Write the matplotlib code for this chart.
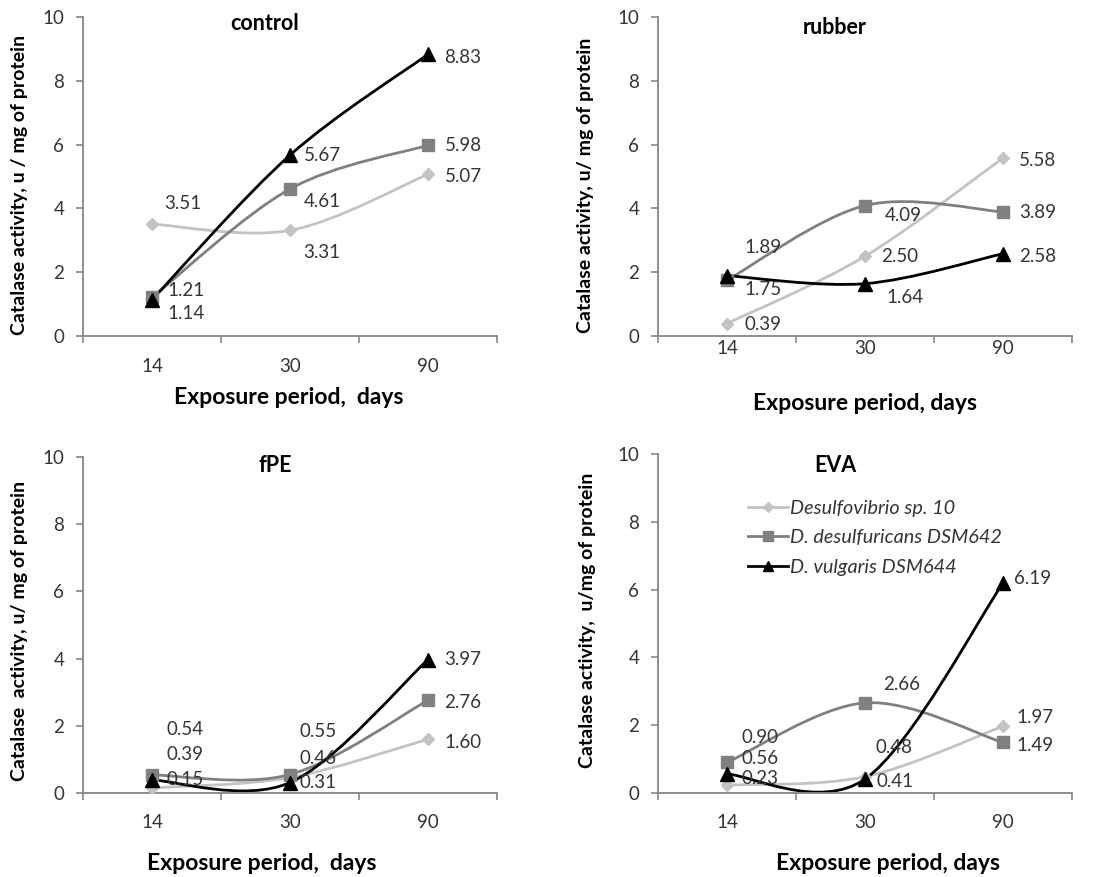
import matplotlib
matplotlib.use('Agg')
import matplotlib.pyplot as plt
from matplotlib.path import Path
from matplotlib.patches import PathPatch
from matplotlib.lines import Line2D

plt.rcParams['font.family'] = ['Lato', 'DejaVu Sans']

# -------------------------------------------------------------------------------------------------------------------- #
# Data
# -------------------------------------------------------------------------------------------------------------------- #

periods = ['14', '30', '90']
strains = ['Desulfovibrio sp. 10', 'D. desulfuricans DSM642', 'D. vulgaris DSM644']

control_sp10 = [3.51, 3.31, 5.07]
control_dsm642 = [1.21, 4.61, 5.98]
control_dsm644 = [1.14, 5.67, 8.83]

rubber_sp10 = [0.39, 2.50, 5.58]
rubber_dsm642 = [1.75, 4.09, 3.89]
rubber_dsm644 = [1.89, 1.64, 2.58]

fpe_sp10 = [0.15, 0.46, 1.60]
fpe_dsm642 = [0.54, 0.55, 2.76]
fpe_dsm644 = [0.39, 0.31, 3.97]

eva_sp10 = [0.23, 0.48, 1.97]
eva_dsm642 = [0.90, 2.66, 1.49]
eva_dsm644 = [0.56, 0.41, 6.19]

# -------------------------------------------------------------------------------------------------------------------- #
# Settings
# -------------------------------------------------------------------------------------------------------------------- #

W, H = 1096, 877
DPI = 100
TEXT_GREY = '#353535'
AXIS_GREY = '#868686'

styles = [
    dict(color='#c3c3c3', marker='D', ms=6.5),
    dict(color='#808080', marker='s', ms=8.5),
    dict(color='#000000', marker='^', ms=9.5),
]

# axes box in pixels: left, top(y=10), right, bottom(y=0)
panels = [
    dict(series=[control_sp10, control_dsm642, control_dsm644],
         box=(83, 17, 497, 336), title='control', title_xy=(265, 23),
         ylabel='Catalase activity, u / mg of protein', ylabel_xy=(20, 185),
         xlabel='Exposure period,  days', xlabel_xy=(289, 397), tick_y=367,
         offsets=[[(31, -21), (32, 22), (35, 2)],
                  [(34, -7), (32, 13), (35, 0)],
                  [(34, 14), (32, 0), (35, 3)]]),
    dict(series=[rubber_sp10, rubber_dsm642, rubber_dsm644],
         box=(658, 17, 1072, 336), title='rubber', title_xy=(835, 28),
         ylabel='Catalase activity, u/ mg of protein', ylabel_xy=(586, 185),
         xlabel='Exposure period, days', xlabel_xy=(865, 403), tick_y=348,
         offsets=[[(36, 1), (35, 0), (35, 3)],
                  [(36, 9), (38, 10), (35, 1)],
                  [(36, -28), (40, 14), (35, 3)]]),
    dict(series=[fpe_sp10, fpe_dsm642, fpe_dsm644],
         box=(83, 457, 497, 793), title='fPE', title_xy=(275, 466),
         ylabel='Catalase  activity, u/ mg of protein', ylabel_xy=(20, 631),
         xlabel='Exposure period,  days', xlabel_xy=(262, 863), tick_y=823,
         offsets=[[(33, -8), (28, -19), (35, 3)],
                  [(33, -45), (28, -43), (35, 2)],
                  [(33, -25), (28, 0), (35, 0)]]),
    dict(series=[eva_sp10, eva_dsm642, eva_dsm644],
         box=(658, 454, 1072, 793), title='EVA', title_xy=(835, 465),
         ylabel='Catalase activity,  u/mg of protein', ylabel_xy=(587, 620),
         xlabel='Exposure period, days', xlabel_xy=(888, 863), tick_y=823,
         offsets=[[(33, -7), (29, -29), (32, -9)],
                  [(33, -25), (37, -18), (32, 3)],
                  [(33, -16), (30, 2), (30, -5)]]),
]

# -------------------------------------------------------------------------------------------------------------------- #
# Functions
# -------------------------------------------------------------------------------------------------------------------- #

def fx(px):
    return px / W


def fy(py):
    return 1 - py / H


def smooth_path(xs, ys):
    """Excel-like smoothed line: Catmull-Rom segments as cubic Bezier curves."""
    pts = list(zip(xs, ys))
    n = len(pts)
    verts = [pts[0]]
    codes = [Path.MOVETO]
    for i in range(n - 1):
        p0 = pts[max(i - 1, 0)]
        p1 = pts[i]
        p2 = pts[i + 1]
        p3 = pts[min(i + 2, n - 1)]
        c1 = (p1[0] + (p2[0] - p0[0]) / 6, p1[1] + (p2[1] - p0[1]) / 6)
        c2 = (p2[0] - (p3[0] - p1[0]) / 6, p2[1] - (p3[1] - p1[1]) / 6)
        verts += [c1, c2, p2]
        codes += [Path.CURVE4] * 3
    return Path(verts, codes)


# -------------------------------------------------------------------------------------------------------------------- #
# Main
# -------------------------------------------------------------------------------------------------------------------- #

fig = plt.figure(figsize=(W / DPI, H / DPI), dpi=DPI)
xpos = list(range(len(periods)))

for p in panels:
    left, top, right, bottom = p['box']
    ax = fig.add_axes([fx(left), fy(bottom), (right - left) / W, (bottom - top) / H])

    handles = []
    for vals, st, offs, name in zip(p['series'], styles, p['offsets'], strains):
        patch = PathPatch(smooth_path(xpos, vals), fill=False, edgecolor=st['color'], lw=2.0,
                          capstyle='round', joinstyle='round', zorder=2)
        ax.add_patch(patch)
        ax.plot(xpos, vals, linestyle='none', marker=st['marker'], ms=st['ms'],
                color=st['color'], mec=st['color'], zorder=3)
        handles.append(Line2D([], [], color=st['color'], lw=2.0, marker=st['marker'],
                              ms=st['ms'], label=name))
        for x, v, (dx, dy) in zip(xpos, vals, offs):
            ax.annotate(f'{v:.2f}', (x, v), xytext=(dx * 0.72, -dy * 0.72), textcoords='offset points',
                        ha='center', va='center', fontsize=13.5, color=TEXT_GREY, zorder=4)

    ax.set_xlim(-0.5, 2.5)
    ax.set_ylim(0, 10)
    ax.set_yticks(range(0, 11, 2))
    ax.tick_params(axis='y', direction='out', length=5, width=1.2, color=AXIS_GREY,
                   labelsize=13.5, labelcolor=TEXT_GREY, pad=8.5)

    # category axis: tick marks between categories, labels centred below
    ax.set_xticks([-0.5, 0.5, 1.5, 2.5])
    ax.set_xticklabels([])
    ax.tick_params(axis='x', direction='out', length=5, width=1.2, color=AXIS_GREY)
    for x, lab in zip(xpos, periods):
        fig.text(fx(left + (right - left) * (x + 0.5) / 3), fy(p['tick_y']), lab, ha='center', va='center',
                 fontsize=13.5, color=TEXT_GREY)

    for s in ['top', 'right']:
        ax.spines[s].set_visible(False)
    for s in ['left', 'bottom']:
        ax.spines[s].set_color(AXIS_GREY)
        ax.spines[s].set_linewidth(1.3)
    ax.set_facecolor('none')

    fig.text(fx(p['title_xy'][0]), fy(p['title_xy'][1]), p['title'], ha='center', va='center',
             fontsize=15.5, fontweight='bold', color='black')
    fig.text(fx(p['xlabel_xy'][0]), fy(p['xlabel_xy'][1]), p['xlabel'], ha='center', va='center',
             fontsize=16.5, fontweight='bold', color='black')
    fig.text(fx(p['ylabel_xy'][0]), fy(p['ylabel_xy'][1]), p['ylabel'], ha='center', va='center',
             rotation=90, fontsize=14, fontweight='bold', color='black')

    if p['title'] == 'EVA':
        leg = ax.legend(handles=handles, loc='upper left', bbox_to_anchor=(fx(748), fy(500)),
                        bbox_transform=fig.transFigure, frameon=False, handlelength=2.0,
                        handletextpad=0.1, labelspacing=0.62, borderaxespad=0, borderpad=0,
                        markerscale=0.8, prop=dict(style='italic', size=14.3))
        for t in leg.get_texts():
            t.set_color(TEXT_GREY)

fig.savefig('out.png', dpi=DPI)
